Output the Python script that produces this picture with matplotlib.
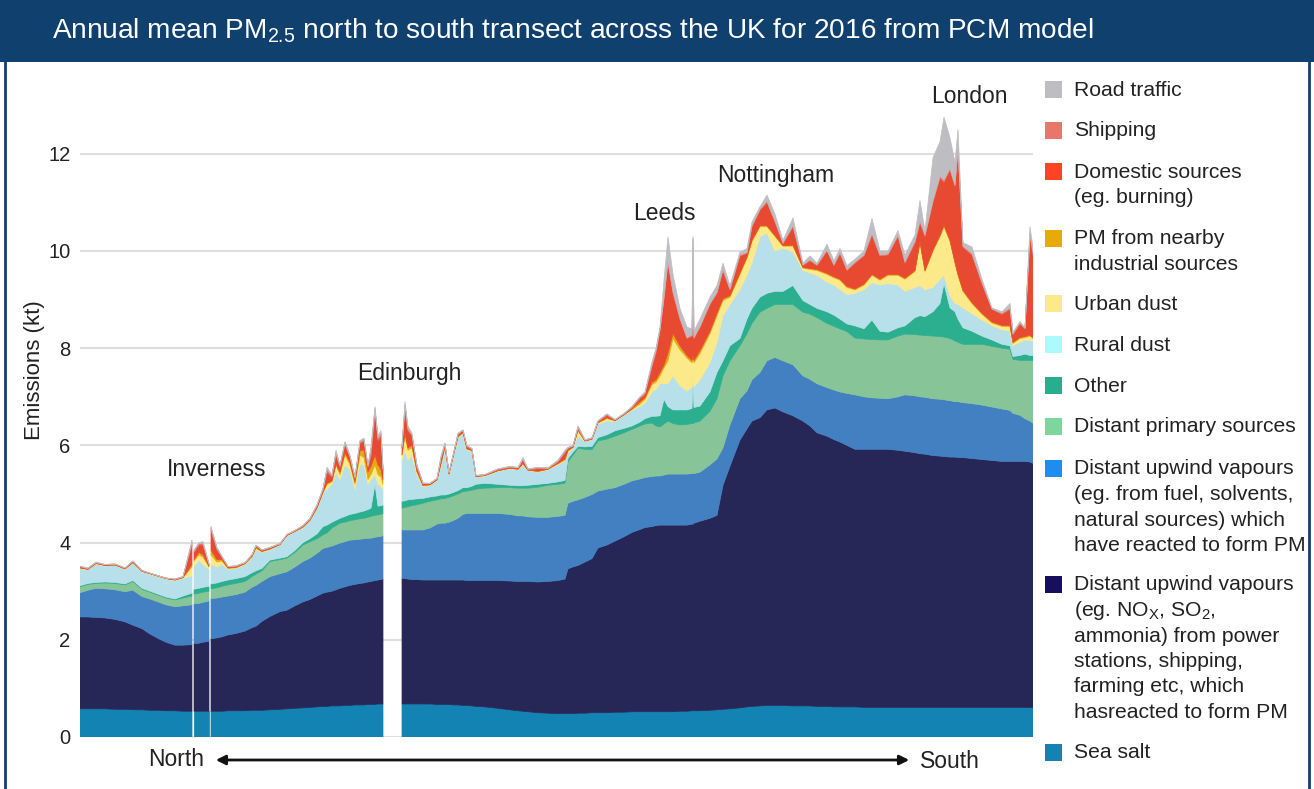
import numpy as np
import matplotlib.pyplot as plt
from matplotlib.patches import Rectangle, FancyArrowPatch
from matplotlib.lines import Line2D

plt.rcParams['font.family'] = ['Liberation Sans', 'DejaVu Sans']
plt.rcParams['mathtext.default'] = 'regular'

nan = np.nan

# position along the north -> south transect (arbitrary units), nan rows = no data (sea)
transect_pos = [0, 8, 16, 25, 35, 45, 53, 62, 70, 78,
                86, 95, 103, 112, 113, 114, 119, 123, 129, 130,
                131, 137, 142, 148, 156, 165, 172, 176, 182, 190,
                200, 207, 215, 223, 230, 237, 243, 247, 252, 256,
                260, 265, 270, 275, 280, 284, 288, 291, 295, 298,
                301, 303, 312, 322, 325, 328, 332, 337, 343, 350,
                357, 361, 365, 369, 373, 378, 383, 387, 392, 396,
                405, 418, 430, 438, 443, 448, 458, 468, 478, 485,
                488, 493, 498, 505, 512, 518, 527, 535, 544, 552,
                560, 565, 572, 576, 580, 584, 588, 593, 600, 607,
                612, 613, 614, 620, 630, 637, 643, 650, 660, 667,
                672, 680, 687, 695, 703, 713, 723, 730, 737, 747,
                754, 760, 767, 775, 784, 792, 800, 808, 818, 825,
                835, 840, 845, 853, 860, 864, 870, 875, 878, 883,
                892, 902, 912, 922, 930, 933, 940, 945, 950, 953]

# upper edge of each stacked layer (kt)
top_sea_salt = [.58, .58, .58, .58, .57, .57, .56, .56, .55, .55,
                .54, .54, .53, .53, nan, .53, .53, .53, .53, nan,
                .53, .53, .53, .54, .54, .54, .55, .55, .55, .56,
                .57, .58, .59, .60, .61, .62, .63, .63, .64, .64,
                .64, .65, .65, .66, .66, .66, .67, .67, .67, .68,
                .68, .68, nan, .68, .68, .68, .68, .68, .68, .68,
                .67, .67, .67, .67, .66, .66, .65, .65, .64, .63,
                .62, .59, .56, .54, .53, .52, .50, .49, .48, .48,
                .48, .48, .49, .49, .50, .50, .50, .51, .51, .52,
                .52, .52, .52, .52, .52, .52, .52, .52, .53, .53,
                .54, .54, .54, .54, .55, .56, .57, .58, .60, .62,
                .63, .64, .65, .65, .65, .64, .64, .64, .63, .63,
                .62, .62, .62, .62, .61, .61, .61, .61, .61, .61,
                .61, .61, .61, .61, .61, .61, .61, .61, .61, .61,
                .61, .61, .61, .61, .61, .61, .61, .61, .61, .60]

top_nox_vapours = [2.47, 2.47, 2.46, 2.45, 2.42, 2.37, 2.30, 2.23, 2.12, 2.03,
                   1.95, 1.89, 1.89, 1.90, nan, 1.92, 1.93, 1.95, 1.97, nan,
                   2.02, 2.04, 2.06, 2.10, 2.13, 2.18, 2.25, 2.28, 2.38, 2.48,
                   2.58, 2.61, 2.70, 2.78, 2.83, 2.90, 2.96, 2.98, 3.00, 3.03,
                   3.06, 3.09, 3.12, 3.14, 3.16, 3.17, 3.19, 3.20, 3.22, 3.23,
                   3.24, 3.25, nan, 3.26, 3.26, 3.25, 3.24, 3.24, 3.23, 3.23,
                   3.23, 3.23, 3.23, 3.23, 3.23, 3.23, 3.23, 3.22, 3.22, 3.22,
                   3.22, 3.22, 3.21, 3.20, 3.20, 3.20, 3.19, 3.20, 3.22, 3.25,
                   3.46, 3.50, 3.53, 3.60, 3.67, 3.89, 3.95, 4.03, 4.12, 4.21,
                   4.27, 4.31, 4.33, 4.35, 4.36, 4.36, 4.36, 4.36, 4.36, 4.36,
                   4.38, 4.38, 4.40, 4.44, 4.50, 4.56, 5.18, 5.57, 6.11, 6.34,
                   6.50, 6.57, 6.73, 6.77, 6.69, 6.61, 6.50, 6.40, 6.26, 6.19,
                   6.12, 6.07, 6.00, 5.92, 5.92, 5.92, 5.92, 5.92, 5.90, 5.88,
                   5.85, 5.83, 5.82, 5.79, 5.78, 5.77, 5.76, 5.76, 5.75, 5.75,
                   5.73, 5.71, 5.69, 5.67, 5.67, 5.67, 5.67, 5.67, 5.66, 5.63]

top_fuel_vapours = [2.97, 3.02, 3.06, 3.05, 3.03, 2.99, 3.02, 2.89, 2.84, 2.78,
                    2.72, 2.68, 2.70, 2.72, nan, 2.74, 2.75, 2.77, 2.80, nan,
                    2.85, 2.86, 2.88, 2.90, 2.93, 2.98, 3.08, 3.12, 3.20, 3.30,
                    3.36, 3.40, 3.50, 3.61, 3.68, 3.78, 3.88, 3.90, 3.93, 3.96,
                    3.99, 4.02, 4.05, 4.06, 4.07, 4.08, 4.09, 4.09, 4.11, 4.12,
                    4.13, 4.14, nan, 4.26, 4.26, 4.26, 4.26, 4.26, 4.26, 4.30,
                    4.38, 4.40, 4.40, 4.42, 4.45, 4.50, 4.58, 4.60, 4.60, 4.60,
                    4.60, 4.60, 4.58, 4.55, 4.55, 4.53, 4.52, 4.52, 4.54, 4.56,
                    4.81, 4.85, 4.88, 4.93, 4.99, 5.06, 5.10, 5.13, 5.20, 5.27,
                    5.31, 5.34, 5.36, 5.37, 5.37, 5.39, 5.41, 5.41, 5.41, 5.41,
                    5.42, 5.42, 5.42, 5.45, 5.60, 5.72, 5.95, 6.42, 6.96, 7.12,
                    7.35, 7.50, 7.74, 7.81, 7.74, 7.66, 7.43, 7.36, 7.27, 7.19,
                    7.14, 7.10, 7.07, 7.04, 7.00, 6.98, 6.97, 6.96, 7.00, 7.04,
                    7.02, 7.00, 6.99, 6.96, 6.95, 6.94, 6.92, 6.90, 6.90, 6.88,
                    6.86, 6.83, 6.79, 6.75, 6.72, 6.66, 6.62, 6.55, 6.50, 6.46]

top_distant_primary = [3.09, 3.14, 3.16, 3.17, 3.16, 3.13, 3.20, 3.04, 2.98, 2.92,
                       2.86, 2.82, 2.86, 2.90, nan, 2.94, 2.96, 2.98, 3.00, nan,
                       3.05, 3.07, 3.10, 3.13, 3.16, 3.20, 3.30, 3.35, 3.42, 3.61,
                       3.65, 3.68, 3.80, 3.95, 4.02, 4.08, 4.16, 4.20, 4.30, 4.35,
                       4.40, 4.42, 4.45, 4.47, 4.49, 4.50, 4.52, 4.54, 4.56, 4.57,
                       4.58, 4.60, nan, 4.71, 4.72, 4.74, 4.76, 4.78, 4.81, 4.85,
                       4.88, 4.90, 4.91, 4.93, 4.96, 5.00, 5.05, 5.06, 5.08, 5.10,
                       5.12, 5.13, 5.13, 5.12, 5.12, 5.12, 5.14, 5.18, 5.20, 5.22,
                       5.66, 5.80, 5.94, 5.92, 5.91, 6.09, 6.13, 6.19, 6.26, 6.33,
                       6.40, 6.44, 6.46, 6.40, 6.38, 6.44, 6.50, 6.45, 6.42, 6.43,
                       6.45, 6.45, 6.46, 6.50, 6.70, 6.96, 7.43, 7.74, 8.05, 8.30,
                       8.51, 8.74, 8.82, 8.90, 8.90, 8.90, 8.74, 8.70, 8.63, 8.51,
                       8.45, 8.40, 8.34, 8.21, 8.19, 8.18, 8.17, 8.17, 8.25, 8.29,
                       8.28, 8.27, 8.26, 8.25, 8.24, 8.23, 8.20, 8.15, 8.12, 8.08,
                       8.08, 8.08, 8.04, 8.00, 7.98, 7.77, 7.75, 7.75, 7.75, 7.75]

top_other = [3.11, 3.16, 3.18, 3.19, 3.18, 3.15, 3.22, 3.06, 3.00, 2.94,
             2.88, 2.84, 2.90, 2.96, nan, 3.04, 3.06, 3.08, 3.10, nan,
             3.15, 3.17, 3.20, 3.23, 3.26, 3.30, 3.38, 3.42, 3.47, 3.64,
             3.68, 3.71, 3.84, 4.00, 4.08, 4.18, 4.33, 4.36, 4.42, 4.46,
             4.50, 4.54, 4.58, 4.60, 4.63, 4.65, 4.68, 4.71, 5.20, 4.75,
             4.76, 4.77, nan, 4.85, 4.86, 4.88, 4.89, 4.90, 4.91, 4.94,
             4.96, 4.98, 4.98, 5.00, 5.03, 5.07, 5.13, 5.13, 5.16, 5.20,
             5.22, 5.20, 5.18, 5.17, 5.17, 5.18, 5.20, 5.22, 5.25, 5.28,
             5.73, 5.86, 5.98, 5.97, 5.98, 6.16, 6.22, 6.30, 6.35, 6.40,
             6.48, 6.55, 6.60, 6.60, 6.61, 6.95, 6.80, 6.73, 6.73, 6.73,
             6.76, 7.30, 6.78, 6.81, 7.10, 7.50, 7.74, 8.05, 8.20, 8.60,
             8.82, 9.05, 9.13, 9.17, 9.17, 9.29, 8.98, 8.90, 8.82, 8.75,
             8.68, 8.60, 8.50, 8.46, 8.40, 8.58, 8.35, 8.33, 8.42, 8.46,
             8.63, 8.67, 8.65, 8.75, 8.92, 9.33, 8.83, 8.75, 8.60, 8.42,
             8.35, 8.25, 8.17, 8.08, 8.05, 7.83, 7.85, 7.88, 7.85, 7.85]

top_rural_dust = [3.47, 3.44, 3.56, 3.52, 3.53, 3.45, 3.58, 3.40, 3.35, 3.30,
                  3.25, 3.22, 3.27, 3.32, nan, 3.50, 3.64, 3.55, 3.45, nan,
                  3.55, 3.50, 3.55, 3.45, 3.47, 3.55, 3.70, 3.85, 3.80, 3.86,
                  3.95, 4.14, 4.22, 4.31, 4.45, 4.70, 5.02, 5.10, 5.20, 5.45,
                  5.30, 5.60, 5.50, 5.10, 5.60, 5.60, 5.20, 5.29, 5.40, 5.20,
                  5.15, 5.10, nan, 5.70, 5.90, 5.70, 5.80, 5.40, 5.15, 5.18,
                  5.28, 5.60, 5.95, 5.40, 5.75, 6.15, 6.25, 5.90, 5.88, 5.35,
                  5.37, 5.47, 5.52, 5.50, 5.60, 5.48, 5.45, 5.50, 5.60, 5.68,
                  5.84, 5.95, 6.20, 6.08, 6.12, 6.44, 6.50, 6.50, 6.62, 6.72,
                  6.80, 6.87, 7.10, 7.15, 7.27, 7.27, 7.27, 7.43, 7.23, 7.12,
                  7.20, 7.40, 7.20, 7.35, 7.70, 8.12, 8.67, 8.90, 9.21, 9.50,
                  9.75, 10.29, 10.37, 10.00, 10.06, 9.98, 9.60, 9.55, 9.50, 9.36,
                  9.30, 9.21, 9.10, 9.13, 9.20, 9.35, 9.30, 9.33, 9.30, 9.17,
                  9.25, 9.29, 9.20, 9.25, 9.42, 9.50, 9.08, 8.92, 8.90, 8.83,
                  8.71, 8.58, 8.46, 8.38, 8.35, 8.05, 8.12, 8.17, 8.15, 8.15]

top_urban_dust = [3.48, 3.45, 3.57, 3.53, 3.54, 3.46, 3.59, 3.41, 3.36, 3.31,
                  3.26, 3.23, 3.28, 3.50, nan, 3.62, 3.75, 3.70, 3.50, nan,
                  3.75, 3.60, 3.62, 3.47, 3.48, 3.56, 3.71, 3.88, 3.81, 3.87,
                  3.96, 4.15, 4.23, 4.32, 4.46, 4.71, 5.03, 5.20, 5.25, 5.60,
                  5.40, 5.80, 5.60, 5.20, 5.80, 5.75, 5.30, 5.40, 5.60, 5.40,
                  5.35, 5.20, nan, 5.80, 6.20, 5.90, 5.95, 5.45, 5.17, 5.19,
                  5.29, 5.62, 5.97, 5.41, 5.76, 6.17, 6.26, 5.92, 5.89, 5.36,
                  5.38, 5.48, 5.53, 5.51, 5.62, 5.49, 5.46, 5.51, 5.62, 5.70,
                  5.88, 5.96, 6.30, 6.09, 6.13, 6.46, 6.55, 6.51, 6.63, 6.74,
                  6.85, 6.95, 7.25, 7.30, 7.43, 7.60, 7.74, 8.20, 7.97, 7.80,
                  7.70, 7.80, 7.70, 7.89, 8.30, 8.67, 8.98, 9.05, 9.52, 9.85,
                  10.20, 10.50, 10.50, 10.30, 10.10, 10.10, 9.65, 9.62, 9.60, 9.52,
                  9.45, 9.40, 9.25, 9.20, 9.30, 9.50, 9.40, 9.50, 9.50, 9.42,
                  9.58, 10.17, 9.58, 10.00, 10.30, 10.50, 10.20, 9.75, 9.50, 9.17,
                  8.92, 8.70, 8.52, 8.45, 8.45, 8.10, 8.20, 8.22, 8.25, 8.20]

top_industrial = [3.48, 3.45, 3.57, 3.53, 3.54, 3.46, 3.59, 3.41, 3.36, 3.31,
                  3.26, 3.23, 3.28, 3.55, nan, 3.65, 3.80, 3.75, 3.52, nan,
                  3.85, 3.65, 3.65, 3.48, 3.49, 3.57, 3.72, 3.90, 3.82, 3.87,
                  3.96, 4.15, 4.23, 4.32, 4.46, 4.72, 5.04, 5.22, 5.27, 5.62,
                  5.45, 5.85, 5.65, 5.25, 5.90, 5.90, 5.45, 5.57, 5.80, 5.60,
                  5.50, 5.30, nan, 5.82, 6.25, 5.95, 6.00, 5.47, 5.18, 5.19,
                  5.29, 5.63, 5.98, 5.41, 5.76, 6.18, 6.27, 5.93, 5.90, 5.36,
                  5.38, 5.48, 5.53, 5.51, 5.63, 5.49, 5.47, 5.51, 5.63, 5.72,
                  5.90, 5.96, 6.32, 6.09, 6.13, 6.47, 6.57, 6.51, 6.63, 6.75,
                  6.90, 6.98, 7.30, 7.35, 7.50, 7.65, 7.90, 8.30, 8.05, 7.85,
                  7.75, 7.85, 7.75, 7.95, 8.35, 8.72, 9.02, 9.08, 9.55, 9.88,
                  10.22, 10.52, 10.52, 10.32, 10.11, 10.12, 9.66, 9.64, 9.62, 9.54,
                  9.47, 9.42, 9.27, 9.22, 9.32, 9.52, 9.42, 9.52, 9.52, 9.44,
                  9.60, 10.19, 9.60, 10.02, 10.32, 10.53, 10.22, 9.77, 9.52, 9.19,
                  8.94, 8.72, 8.54, 8.47, 8.47, 8.12, 8.22, 8.24, 8.27, 8.22]

top_domestic = [3.50, 3.46, 3.58, 3.54, 3.55, 3.47, 3.61, 3.42, 3.37, 3.32,
                3.27, 3.24, 3.29, 3.95, nan, 3.80, 3.95, 3.95, 3.55, nan,
                4.25, 3.85, 3.70, 3.50, 3.51, 3.58, 3.74, 3.93, 3.84, 3.89,
                3.97, 4.16, 4.24, 4.34, 4.48, 4.76, 5.08, 5.45, 5.35, 5.80,
                5.55, 6.02, 5.75, 5.32, 6.05, 6.08, 5.55, 5.77, 6.70, 6.10,
                6.20, 5.50, nan, 5.95, 6.75, 6.30, 6.20, 5.55, 5.21, 5.21,
                5.31, 5.72, 6.02, 5.43, 5.78, 6.22, 6.30, 5.97, 5.92, 5.37,
                5.39, 5.50, 5.55, 5.53, 5.70, 5.50, 5.52, 5.52, 5.66, 5.85,
                5.94, 5.98, 6.35, 6.10, 6.14, 6.49, 6.62, 6.52, 6.64, 6.77,
                6.97, 7.05, 7.62, 7.90, 8.36, 9.00, 9.75, 9.13, 8.59, 8.20,
                8.25, 8.30, 8.20, 8.43, 8.90, 9.13, 9.60, 9.20, 9.90, 9.95,
                10.50, 10.84, 11.00, 10.60, 10.15, 10.50, 9.70, 9.80, 9.70, 10.00,
                9.70, 9.95, 9.60, 9.75, 9.90, 10.33, 9.90, 9.92, 10.30, 9.75,
                10.17, 10.58, 10.30, 11.00, 11.50, 11.42, 11.67, 11.33, 12.08, 10.08,
                9.92, 9.33, 8.80, 8.70, 8.80, 8.28, 8.50, 8.40, 10.30, 9.92]

top_shipping = [3.51, 3.47, 3.59, 3.55, 3.56, 3.48, 3.62, 3.43, 3.37, 3.32,
                3.27, 3.25, 3.30, 4.00, nan, 3.83, 3.98, 3.99, 3.56, nan,
                4.30, 3.88, 3.71, 3.51, 3.52, 3.59, 3.75, 3.94, 3.85, 3.90,
                3.98, 4.17, 4.25, 4.35, 4.49, 4.77, 5.10, 5.50, 5.38, 5.85,
                5.58, 6.05, 5.78, 5.34, 6.08, 6.12, 5.58, 5.90, 6.75, 6.15,
                6.25, 5.52, nan, 5.98, 6.82, 6.35, 6.22, 5.58, 5.22, 5.22,
                5.32, 5.75, 6.04, 5.44, 5.79, 6.24, 6.31, 5.99, 5.93, 5.38,
                5.40, 5.51, 5.56, 5.54, 5.72, 5.51, 5.54, 5.53, 5.68, 5.88,
                5.95, 5.99, 6.38, 6.11, 6.15, 6.50, 6.64, 6.53, 6.65, 6.79,
                6.99, 7.08, 7.66, 7.95, 8.38, 9.05, 9.80, 9.17, 8.62, 8.22,
                8.27, 10.25, 8.22, 8.45, 8.92, 9.15, 9.62, 9.22, 9.92, 9.97,
                10.52, 10.86, 11.03, 10.62, 10.17, 10.52, 9.72, 9.82, 9.72, 10.02,
                9.72, 9.97, 9.62, 9.77, 9.92, 10.36, 9.92, 9.94, 10.33, 9.78,
                10.20, 10.62, 10.33, 11.04, 11.54, 11.46, 11.70, 11.36, 12.12, 10.10,
                9.95, 9.35, 8.81, 8.72, 8.83, 8.30, 8.52, 8.41, 10.35, 9.98]

top_road_traffic = [3.52, 3.48, 3.60, 3.55, 3.56, 3.48, 3.62, 3.43, 3.37, 3.32,
                    3.27, 3.25, 3.30, 4.05, nan, 3.85, 4.00, 4.02, 3.57, nan,
                    4.33, 3.90, 3.72, 3.51, 3.52, 3.59, 3.75, 3.95, 3.85, 3.90,
                    3.98, 4.17, 4.25, 4.35, 4.50, 4.78, 5.12, 5.55, 5.40, 5.90,
                    5.60, 6.08, 5.80, 5.36, 6.10, 6.15, 5.60, 5.98, 6.80, 6.20,
                    6.30, 5.55, nan, 6.00, 6.90, 6.40, 6.25, 5.60, 5.23, 5.22,
                    5.32, 5.78, 6.05, 5.45, 5.80, 6.25, 6.32, 6.00, 5.94, 5.38,
                    5.40, 5.52, 5.57, 5.55, 5.75, 5.52, 5.55, 5.54, 5.70, 5.90,
                    5.96, 6.00, 6.40, 6.12, 6.16, 6.51, 6.65, 6.53, 6.66, 6.80,
                    7.00, 7.10, 7.72, 8.00, 8.43, 9.40, 10.29, 9.52, 8.82, 8.43,
                    8.40, 10.30, 8.35, 8.60, 9.05, 9.29, 9.75, 9.29, 9.98, 10.05,
                    10.60, 10.91, 11.15, 10.76, 10.22, 10.68, 9.75, 9.90, 9.75, 10.14,
                    9.80, 10.05, 9.70, 9.83, 10.00, 10.67, 10.00, 10.00, 10.42, 9.92,
                    10.33, 11.04, 10.42, 11.92, 12.25, 12.75, 12.33, 11.83, 12.50, 10.17,
                    10.08, 9.42, 8.83, 8.75, 8.92, 8.33, 8.55, 8.42, 10.50, 10.08]

layer_labels = [
    ['Sea salt'],
    ['Distant upwind vapours', '(eg. NO$_X$, SO$_2$,', 'ammonia) from power',
     'stations, shipping,', 'farming etc, which', 'hasreacted to form PM'],
    ['Distant upwind vapours', '(eg. from fuel, solvents,', 'natural sources) which',
     'have reacted to form PM'],
    ['Distant primary sources'],
    ['Other'],
    ['Rural dust'],
    ['Urban dust'],
    ['PM from nearby', 'industrial sources'],
    ['Domestic sources', '(eg. burning)'],
    ['Shipping'],
    ['Road traffic'],
]
fill_colors = ['#1283b3', '#262657', '#4380c1', '#87c598', '#2caf8e', '#b8e0ea',
               '#fce98a', '#e6a80c', '#e84a31', '#e9766b', '#bdbdc2']
legend_colors = ['#1283b3', '#170f5c', '#1f8cf0', '#7fd69c', '#27ae8c', '#a9fbfc',
                 '#fce98a', '#e8a90a', '#ff4424', '#e9766b', '#bdbdc2']

edges = np.array([top_sea_salt, top_nox_vapours, top_fuel_vapours, top_distant_primary,
                  top_other, top_rural_dust, top_urban_dust, top_industrial,
                  top_domestic, top_shipping, top_road_traffic])
layers = np.diff(np.vstack([np.zeros(len(transect_pos)), edges]), axis=0)

W, H = 1314, 789
fig = plt.figure(figsize=(W / 100, H / 100), dpi=100)


def fx(px):
    return px / W


def fy(py):
    return 1 - py / H


band = '#10406e'
fig.add_artist(Rectangle((0, fy(62)), 1, 62 / H, transform=fig.transFigure,
                         facecolor=band, edgecolor='none'))
for xb in (5, 1309):
    fig.add_artist(Line2D([fx(xb), fx(xb)], [0, fy(62)], transform=fig.transFigure,
                          color=band, lw=2))
fig.text(fx(52), fy(31), 'Annual mean PM$_{2.5}$ north to south transect across the UK '
         'for 2016 from PCM model', color='white', fontsize=20.2, ha='left', va='center')

ax = fig.add_axes([fx(80), fy(737), fx(1033) - fx(80), (737 - 70) / H])
ax.stackplot(transect_pos, layers, colors=fill_colors, linewidth=0.5, edgecolor='face')
ax.set_xlim(0, 953)
ax.set_ylim(0, (737 - 70) / 48.6)
ax.set_yticks(range(0, 13, 2))
ax.set_xticks([])
ax.yaxis.grid(True, color='#dedede', lw=1.5)
ax.set_axisbelow(True)
for s in ax.spines.values():
    s.set_visible(False)
ax.tick_params(axis='y', length=0, labelsize=14.5, labelcolor='#222222', pad=7)
ax.set_ylabel('Emissions (kt)', fontsize=16, color='#222222')
ax.yaxis.set_label_coords(-0.037, 0.55)

for name, px, v in [('Inverness', 137, 5.51), ('Edinburgh', 329, 7.47), ('Leeds', 584, 10.78),
                    ('Nottingham', 696, 11.56), ('London', 889, 13.17)]:
    ax.text(px, v, name, ha='center', va='center', fontsize=16.5, color='#222222')

fig.text(fx(176), fy(759), 'North', ha='center', va='center', fontsize=16.5, color='#222222')
fig.text(fx(950), fy(761), 'South', ha='center', va='center', fontsize=16.5, color='#222222')
fig.add_artist(FancyArrowPatch((fx(213), fy(760)), (fx(912), fy(760)), transform=fig.transFigure,
                               arrowstyle='<|-|>', mutation_scale=14, lw=2, color='#111111'))

# legend, top entry first
legend_start = [753, 585, 469, 427, 386, 345, 304, 239, 172, 131, 90]
for lines, col, y0 in zip(layer_labels, legend_colors, legend_start):
    fig.add_artist(Rectangle((fx(1045), fy(y0 + 8)), 17 / W, 17 / H, transform=fig.transFigure,
                             facecolor=col, edgecolor='none'))
    for k, line in enumerate(lines):
        fig.text(fx(1074), fy(y0 + k * 25.5), line, ha='left', va='center',
                 fontsize=15.2, color='#222222')

fig.savefig('out.png', dpi=100)
